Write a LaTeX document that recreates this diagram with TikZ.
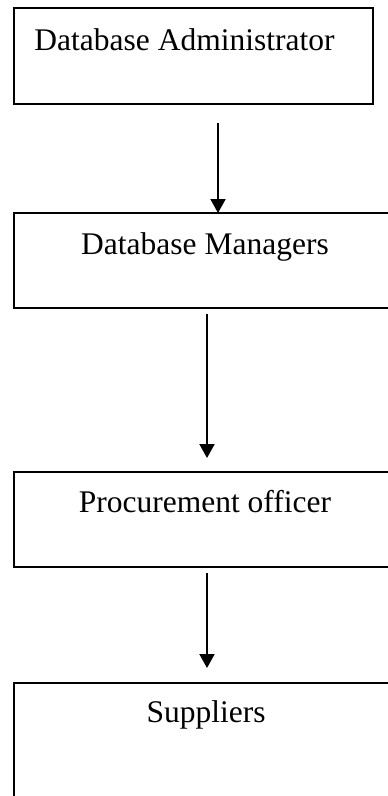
\documentclass[tikz,border=0pt]{standalone}
\usepackage{fontspec}
\setmainfont{Liberation Serif}
\usetikzlibrary{arrows.meta}

\begin{document}
\begin{tikzpicture}[x=1pt,y=-1pt,
    box/.style={draw, line width=2.4pt, inner xsep=0pt, inner ysep=0pt, outer sep=0pt,
      anchor=north west, font=\fontsize{31.5}{36}\selectfont},
    arr/.style={line width=2pt, -{Triangle[width=15pt,length=14pt]}}]
    \useasboundingbox (0,0) rectangle (388,796);
    \clip (0,0) rectangle (388,796);
    \node[box, minimum width=359pt, text height=42pt, text depth=54pt] (admin) at (14,8) {Database Administrator\hspace*{18pt}};
    \node[box, minimum width=382pt, text height=41pt, text depth=54pt] (mgr) at (14,213) {Database Managers};
    \node[box, minimum width=382pt, text height=40pt, text depth=55pt] (proc) at (14,472) {Procurement officer};
    \node[box, minimum width=384pt, text height=39pt, text depth=100pt] (supp) at (14,683) {Suppliers};
    \coordinate (t1) at (218,123);
    \coordinate (t2) at (207,314);
    \coordinate (t3) at (207,573);
    \draw[arr] (t1) -- (t1 |- mgr.north);
    \draw[arr, shorten >=14pt] (t2) -- (t2 |- proc.north);
    \draw[arr, shorten >=15pt] (t3) -- (t3 |- supp.north);
  \end{tikzpicture}
\end{document}
